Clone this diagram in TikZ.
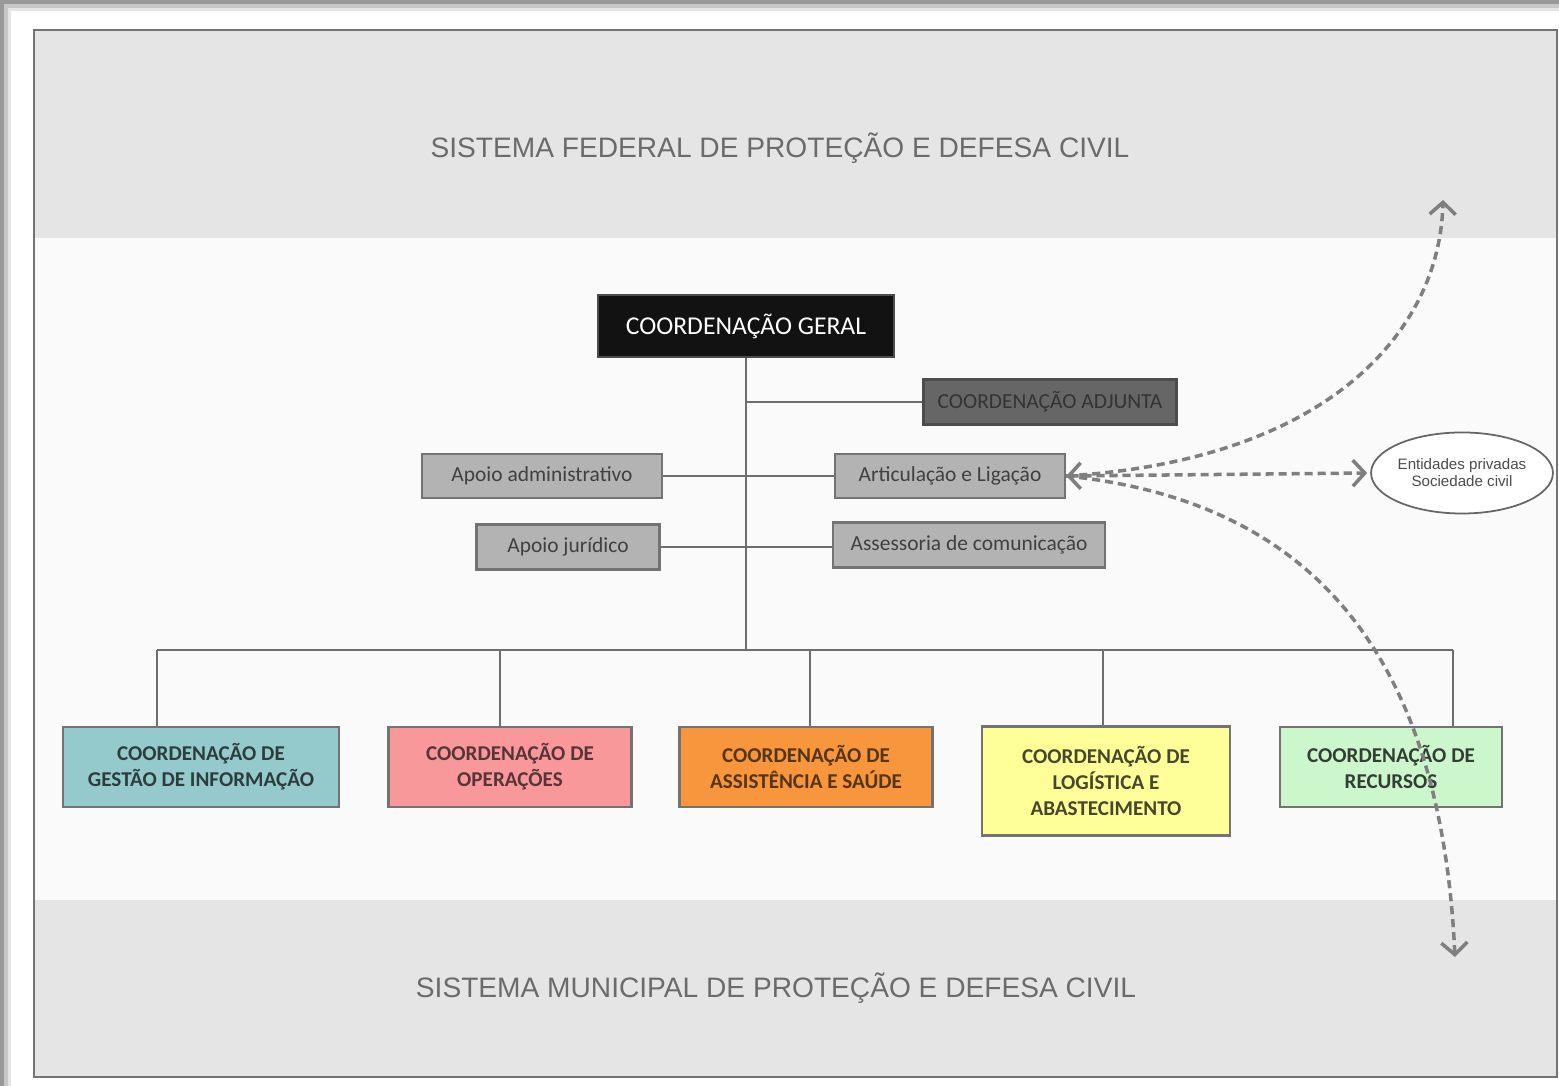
\documentclass[tikz,border=0pt]{standalone}
\usepackage{fontspec}
\setmainfont{Liberation Sans}
\newfontfamily\calfont{Carlito}
\usepackage{xcolor}
\usetikzlibrary{shapes.geometric,positioning,arrows.meta}

\definecolor{bandgray}{HTML}{E5E5E5}
\definecolor{linegray}{HTML}{6E6E6E}
\definecolor{dashgray}{HTML}{7F7F7F}
\definecolor{supgray}{HTML}{B3B3B3}
\definecolor{gestfill}{HTML}{95CACD}
\definecolor{opfill}{HTML}{F8989B}
\definecolor{assfill}{HTML}{F7963C}
\definecolor{logfill}{HTML}{FFFF99}
\definecolor{recfill}{HTML}{CCF7CC}

\begin{document}
\begin{tikzpicture}[
			x=0.01cm,y=-0.01cm,
			line width=0.6pt,
			box/.style={
				draw=black!55,
				line width=0.7pt,
				rectangle,
				inner sep=1pt,
				align=center,
				font=\calfont\fontsize{6.1}{7.4}\selectfont
			},
			support/.style={box, fill=supgray, text=black!75},
			coord/.style={box, minimum height=0.8cm,
				font=\calfont\bfseries\fontsize{6.0}{7.4}\selectfont},
			link/.style={draw=linegray, line width=0.6pt},
			ext/.style={draw=dashgray, line width=1pt, dash pattern=on 2.3pt off 1.4pt,
				>={Straight Barb[length=1.2mm,width=2.6mm]}},
			band/.style={font=\fontsize{8}{9}\selectfont, text=black!58}
			]
			\useasboundingbox (0,0) rectangle (1559,1086);
			
			% Page shadow and frame
			\fill[black!40] (0,0) rectangle (1559,1086);
			\fill[black!22] (4,4) rectangle (1559,1086);
			\fill[black!10] (8,8) rectangle (1559,1086);
			\fill[white] (11,11) rectangle (1559,1086);
			\fill[white!98!black] (34,30) rectangle (1557,1077);
			\fill[bandgray] (34,30) rectangle (1557,238);
			\fill[bandgray] (34,900) rectangle (1557,1077);
			\draw[black!55, line width=0.8pt] (34,30) rectangle (1557,1077);
			
			% Federal and municipal systems
			\node[band] (federal) at (780,148) {SISTEMA FEDERAL DE PROTEÇÃO E DEFESA CIVIL};
			\node[band] (municipal) at (776,988) {SISTEMA MUNICIPAL DE PROTEÇÃO E DEFESA CIVIL};
			
			% Top of the structure
			\node[box, fill=black!93, text=white, draw=black!70, minimum width=2.96cm, minimum height=0.62cm,
				font=\calfont\fontsize{7.3}{8.5}\selectfont] (geral) at (746,326) {COORDENAÇÃO GERAL};
			\node[box, fill=black!60, text=black!80, draw=black!70, minimum width=2.53cm, minimum height=0.45cm] (adjunta) at (1050,402) {COORDENAÇÃO ADJUNTA};
			
			% Support units
			\node[support, minimum width=2.40cm, minimum height=0.44cm] (admin) at (542,476) {Apoio administrativo};
			\node[support, minimum width=2.30cm, minimum height=0.44cm] (artic) at (950,476) {Articulação e Ligação};
			\node[support, minimum width=1.83cm, minimum height=0.45cm] (juridico) at (568,547) {Apoio jurídico};
			\node[support, minimum width=2.72cm, minimum height=0.45cm] (comunic) at (969,545) {Assessoria de comunicação};
			
			% Coordinations
			\node[coord, fill=gestfill, text=gestfill!30!black, minimum width=2.76cm] (gestao) at (201,767) {COORDENAÇÃO DE\\GESTÃO DE INFORMAÇÃO};
			\node[coord, fill=opfill, text=opfill!35!black, minimum width=2.43cm] (operacoes) at (510,767) {COORDENAÇÃO DE\\OPERAÇÕES};
			\node[coord, fill=assfill, text=assfill!35!black, minimum width=2.53cm] (assist) at (806,767) {COORDENAÇÃO DE\\ASSISTÊNCIA E SAÚDE};
			\node[coord, fill=logfill, text=logfill!28!black, minimum width=2.48cm, minimum height=1.09cm] (logist) at (1106,781) {COORDENAÇÃO DE\\LOGÍSTICA E\\ABASTECIMENTO};
			\node[coord, fill=recfill, text=recfill!25!black, minimum width=2.22cm] (recursos) at (1391,767) {COORDENAÇÃO DE\\RECURSOS};
			
			% External partners
			\node[ellipse, draw=black!60, line width=0.5pt, fill=white, minimum width=1.53cm, minimum height=0.81cm,
				inner sep=0pt, align=center, font=\fontsize{4.3}{4.8}\selectfont, text=black!70] (entidades) at (1462,473) {Entidades privadas\\Sociedade civil};
			
			% Drop points on the bus
			\coordinate (d1) at (157,650);
			\coordinate (d2) at (500,650);
			\coordinate (d3) at (810,650);
			\coordinate (d4) at (1103,650);
			\coordinate (d5) at (1453,650);
			
			% Hierarchy lines
			\draw[link] (geral.south) -- (geral.south |- d1);
			\draw[link] (adjunta.west) -- (adjunta.west -| geral.south);
			\draw[link] (admin) -- (artic);
			\draw[link] (juridico.east) -- (juridico.east -| comunic.west);
			\draw[link] (d1) -- (d5);
			\draw[link] (d1) -- (d1 |- gestao.north);
			\draw[link] (d2) -- (d2 |- operacoes.north);
			\draw[link] (d3) -- (d3 |- assist.north);
			\draw[link] (d4) -- (d4 |- logist.north);
			\draw[link] (d5) -- (d5 |- recursos.north);
			
			% Links to other systems
			\coordinate (federalend) at (1443,200);
			\coordinate (municipalend) at (1455,957);
			\draw[ext, <->, shorten >=0.3mm] (artic.east) -- (entidades.west);
			\draw[ext, ->] (artic.east) .. controls (1330,460) and (1440,330) .. (federalend);
			\draw[ext, ->] (artic.east) .. controls (1300,500) and (1440,640) .. (municipalend);
		\end{tikzpicture}
\end{document}
